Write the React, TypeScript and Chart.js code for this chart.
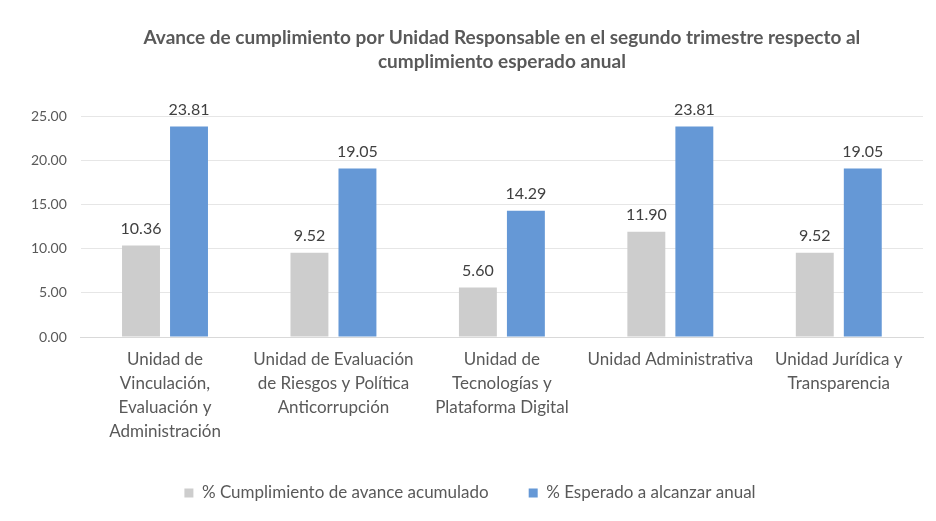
import React, { useEffect, useRef } from "react";
import { Chart, registerables } from "chart.js";

Chart.register(...registerables);

const titleLines = [
  "Avance de cumplimiento por Unidad Responsable en el segundo trimestre respecto al",
  "cumplimiento esperado anual",
];

const categories: string[][] = [
  ["Unidad de", "Vinculación,", "Evaluación y", "Administración"],
  ["Unidad de Evaluación", "de Riesgos y Política", "Anticorrupción"],
  ["Unidad de", "Tecnologías y", "Plataforma Digital"],
  ["Unidad Administrativa"],
  ["Unidad Jurídica y", "Transparencia"],
];

const seriesNames = ["% Cumplimiento de avance acumulado", "% Esperado a alcanzar anual"];
const avanceAcumulado = [10.36, 9.52, 5.6, 11.9, 9.52];
const esperadoAnual = [23.81, 19.05, 14.29, 23.81, 19.05];

const yTicks = { min: 0, max: 25, step: 5 };

const FONT = "Lato, 'Open Sans', sans-serif";

const valueLabels = {
  id: "valueLabels",
  afterDatasetsDraw(chart: any) {
    const ctx = chart.ctx;
    ctx.save();
    ctx.font = `16px ${FONT}`;
    ctx.fillStyle = "#404040";
    ctx.textAlign = "center";
    ctx.textBaseline = "bottom";
    chart.data.datasets.forEach((ds: any, di: number) => {
      const meta = chart.getDatasetMeta(di);
      meta.data.forEach((el: any, i: number) => {
        ctx.fillText(Number(ds.data[i]).toFixed(2), el.x, el.y - 9);
      });
    });
    ctx.restore();
  },
};

export default function App() {
  const ref = useRef<HTMLCanvasElement | null>(null);
  useEffect(() => {
    if (!ref.current) return;
    const chart = new Chart(ref.current, {
      type: "bar",
      data: {
        labels: categories,
        datasets: [
          {
            label: seriesNames[0],
            data: avanceAcumulado,
            backgroundColor: "#cdcdcd",
            categoryPercentage: 0.57,
            barPercentage: 0.79,
          },
          {
            label: seriesNames[1],
            data: esperadoAnual,
            backgroundColor: "#6598d6",
            categoryPercentage: 0.57,
            barPercentage: 0.79,
          },
        ],
      },
      options: {
        animation: false,
        responsive: false,
        maintainAspectRatio: false,
        layout: { padding: { left: 17, right: 13, top: 0, bottom: 9.5 } },
        plugins: {
          title: {
            display: true,
            fullSize: false,
            text: titleLines,
            color: "#595959",
            font: { family: FONT, size: 19, weight: "bold", lineHeight: 1.25 },
            padding: { top: 26, bottom: 42.5 },
          },
          legend: {
            position: "bottom",
            labels: {
              boxWidth: 9,
              boxHeight: 9,
              color: "#595959",
              font: { family: FONT, size: 17 },
              padding: 40,
            },
          },
          tooltip: { enabled: false },
        },
        scales: {
          x: {
            grid: { display: false, drawTicks: false },
            border: { color: "#d9d9d9" },
            afterFit: (scale: any) => {
              scale.height = 107.5;
            },
            ticks: {
              color: "#595959",
              font: { family: FONT, size: 17, lineHeight: 1.41 },
              padding: 11,
              maxRotation: 0,
              autoSkip: false,
            },
          },
          y: {
            min: yTicks.min,
            max: yTicks.max,
            ticks: {
              stepSize: yTicks.step,
              color: "#595959",
              font: { family: FONT, size: 14 },
              padding: 14,
              callback: (v: any) => Number(v).toFixed(2),
            },
            grid: { color: "#e6e6e6", drawTicks: false },
            border: { display: false },
          },
        },
      },
      plugins: [valueLabels],
    });
    return () => chart.destroy();
  }, []);
  return (
    <div style={{ position: "fixed", left: 0, top: 0, width: 936, height: 521, background: "#fff" }}>
      <canvas ref={ref} width={936} height={521} style={{ width: 936, height: 521 }} />
    </div>
  );
}
